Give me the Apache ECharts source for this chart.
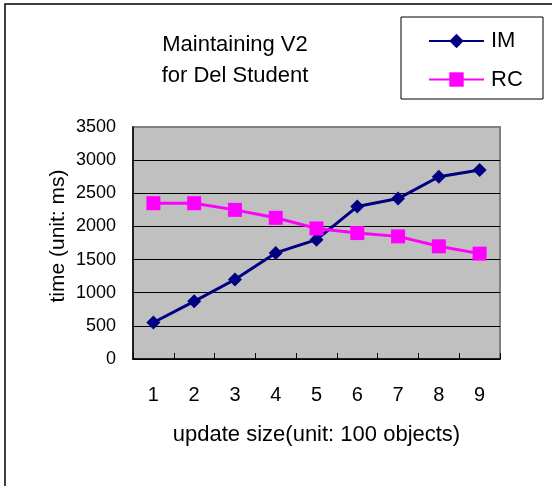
<!DOCTYPE html>
<html>
<head>
<meta charset="utf-8">
<script src="https://cdn.jsdelivr.net/npm/echarts@6/dist/echarts.min.js"></script>
<style>
html,body{margin:0;padding:0;background:#fff;}
#chart{width:552px;height:486px;}
</style>
</head>
<body>
<div id="chart"></div>
<script>
const categories = ['1','2','3','4','5','6','7','8','9'];
const imValues = [550, 870, 1200, 1600, 1800, 2300, 2420, 2750, 2850];
const rcValues = [2350, 2350, 2250, 2130, 1970, 1900, 1850, 1700, 1590];
const seriesNames = ['IM', 'RC'];
const titleLines = ['Maintaining V2', 'for Del Student'];
const xAxisName = 'update size(unit: 100 objects)';
const yAxisName = 'time (unit: ms)';

const FONT = '"Liberation Sans", Arial, sans-serif';
const chart = echarts.init(document.getElementById('chart'));
chart.setOption({
  backgroundColor: '#fff',
  animation: false,
  grid: {
    left: 133, top: 127, right: 52, bottom: 127,
    show: true, backgroundColor: '#C0C0C0', borderColor: '#808080', borderWidth: 2
  },
  graphic: [
    { type: 'rect', shape: { x: 5, y: 4, width: 700, height: 700 },
      style: { fill: 'none', stroke: '#000', lineWidth: 1.5 }, z: 0 },
    { type: 'rect', shape: { x: 401, y: 17, width: 142, height: 82 },
      style: { fill: '#fff', stroke: '#000', lineWidth: 1 }, z: 1 },
    { type: 'text', x: 235, y: 60, z: 5,
      style: { text: titleLines.join('\n'), font: '22px ' + FONT, fill: '#000',
               textAlign: 'center', textVerticalAlign: 'middle', lineHeight: 31 } },
    { type: 'text', x: 58, y: 236, rotation: Math.PI / 2, z: 5,
      style: { text: yAxisName, font: '21px ' + FONT, fill: '#000',
               textAlign: 'center', textVerticalAlign: 'middle' } }
  ],
  legend: {
    data: seriesNames,
    orient: 'vertical',
    left: 428, top: 30, padding: 0,
    itemWidth: 55, itemHeight: 18, itemGap: 16.5,
    textStyle: { fontFamily: FONT, fontSize: 22, color: '#000', padding: [0, 0, 0, 2] },
    z: 10
  },
  xAxis: {
    type: 'category',
    data: categories,
    boundaryGap: true,
    name: xAxisName,
    nameLocation: 'middle',
    nameGap: 65,
    nameTextStyle: { fontFamily: FONT, fontSize: 22, color: '#000' },
    axisLine: { show: true, lineStyle: { color: '#000', width: 1.5 } },
    axisTick: { show: true, inside: true, length: 6, lineStyle: { color: '#000' } },
    axisLabel: { margin: 26, fontFamily: FONT, fontSize: 20, color: '#000' },
    splitLine: { show: false }
  },
  yAxis: {
    type: 'value',
    min: 0, max: 3500, interval: 500,
    axisLine: { show: true, lineStyle: { color: '#000', width: 1.5 } },
    axisTick: { show: false },
    axisLabel: { margin: 17, fontFamily: FONT, fontSize: 18, color: '#000',
                 formatter: function (v) { return String(v); } },
    splitLine: { show: true, showMaxLine: false, lineStyle: { color: '#000', width: 1 } }
  },
  series: [
    {
      name: seriesNames[0], type: 'line', data: imValues,
      symbol: 'diamond', symbolSize: 14,
      lineStyle: { color: '#000080', width: 3 },
      itemStyle: { color: '#000080' }
    },
    {
      name: seriesNames[1], type: 'line', data: rcValues,
      symbol: 'rect', symbolSize: 14,
      lineStyle: { color: '#FF00FF', width: 3 },
      itemStyle: { color: '#FF00FF' }
    }
  ]
});
</script>
</body>
</html>
